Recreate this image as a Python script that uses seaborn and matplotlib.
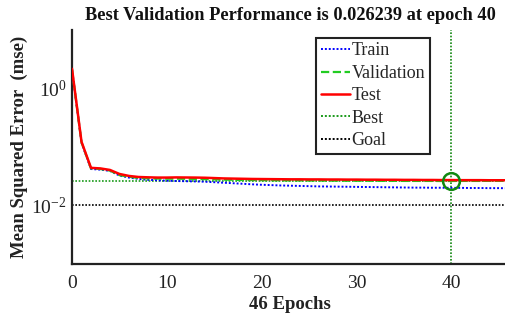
import numpy as np
import pandas as pd
import matplotlib
matplotlib.use("Agg")
import matplotlib.pyplot as plt
import seaborn as sns
from matplotlib.lines import Line2D
from matplotlib.ticker import LogLocator, NullFormatter, FixedLocator, FixedFormatter

# ---- data ----
epochs = list(range(0, 47))
train = [2.1, 0.118, 0.042, 0.041, 0.039, 0.0325, 0.030, 0.0285, 0.0275, 0.027,
         0.0265, 0.0262, 0.026, 0.0258, 0.0255, 0.025, 0.0245, 0.024, 0.0235, 0.023,
         0.0226, 0.0223, 0.022, 0.0218, 0.0216, 0.0214, 0.0212, 0.0211, 0.021, 0.0209,
         0.0208, 0.0207, 0.0206, 0.0205, 0.0204, 0.0203, 0.0202, 0.0202, 0.0201, 0.0201,
         0.020, 0.020, 0.0199, 0.0199, 0.0198, 0.0198, 0.0197]
validation = [2.1, 0.12, 0.043, 0.042, 0.0395, 0.033, 0.031, 0.0295, 0.029, 0.0288,
              0.0287, 0.0287, 0.0286, 0.0285, 0.0283, 0.028, 0.0277, 0.0275, 0.0273, 0.0272,
              0.0271, 0.027, 0.0269, 0.0268, 0.0268, 0.0267, 0.0267, 0.0266, 0.0266, 0.0265,
              0.0265, 0.0265, 0.0264, 0.0264, 0.0264, 0.0263, 0.0263, 0.0263, 0.0263, 0.0262,
              0.026239, 0.0263, 0.0263, 0.0263, 0.0264, 0.0264, 0.0264]
test = [2.17, 0.123, 0.044, 0.043, 0.0405, 0.0346, 0.032, 0.0307, 0.0303, 0.030,
        0.030, 0.0302, 0.0301, 0.030, 0.0298, 0.0294, 0.029, 0.0288, 0.0286, 0.0284,
        0.0283, 0.0282, 0.0281, 0.028, 0.028, 0.0279, 0.0279, 0.0278, 0.0278, 0.0277,
        0.0277, 0.0276, 0.0276, 0.0275, 0.0275, 0.0274, 0.0274, 0.0273, 0.0273, 0.0272,
        0.0272, 0.0271, 0.0271, 0.0271, 0.027, 0.027, 0.027]
best_epoch = 40
best_perf = 0.026239
goal = 0.01
n_epochs = 46
ytick_vals = [1e-2, 1e0]
ytick_labels = [r"$10^{-2}$", r"$10^{0}$"]
xtick_vals = [0, 10, 20, 30, 40]

df = pd.DataFrame({"epoch": epochs, "Train": train, "Validation": validation, "Test": test})

sns.set_theme(style="white")
plt.rcParams["font.family"] = ["Liberation Serif", "DejaVu Serif"]
plt.rcParams["mathtext.fontset"] = "custom"
plt.rcParams["mathtext.rm"] = "Liberation Serif"
plt.rcParams["mathtext.it"] = "Liberation Serif:italic"
plt.rcParams["mathtext.bf"] = "Liberation Serif:bold"

fig = plt.figure(figsize=(5.05, 3.16), dpi=100)
ax = fig.add_axes([0.1426, 0.1646, 0.864, 0.7405])

dot = (0, (1, 1))
c_train = "#0000ff"
c_val = "#22cc22"
c_test = "#ff0000"
c_best = "#1a9a1a"
c_goal = "#000000"

sns.lineplot(data=df, x="epoch", y="Train", ax=ax, color=c_train, lw=1.4, linestyle=dot, zorder=3)
sns.lineplot(data=df, x="epoch", y="Validation", ax=ax, color=c_val, lw=1.6, linestyle="--", zorder=4)
sns.lineplot(data=df, x="epoch", y="Test", ax=ax, color=c_test, lw=1.8, zorder=5)
ax.axhline(best_perf, color=c_best, lw=1.2, linestyle=dot, zorder=2)
ax.axvline(best_epoch, color="#118811", lw=1.2, linestyle=dot, zorder=2)
ax.axhline(goal, color=c_goal, lw=1.2, linestyle=dot, zorder=2)
ax.plot([best_epoch], [best_perf], marker="o", ms=12, mfc="none", mec="#118811", mew=1.8, zorder=6)

ax.set_yscale("log")
ax.set_ylim(1e-3, 1e1)
ax.set_xlim(0, n_epochs)
ax.yaxis.set_major_locator(FixedLocator(ytick_vals))
ax.yaxis.set_major_formatter(FixedFormatter(ytick_labels))
ax.yaxis.set_minor_locator(LogLocator(base=10, subs=np.arange(1, 10), numticks=50))
ax.yaxis.set_minor_formatter(NullFormatter())
ax.set_xticks(xtick_vals)

ax.tick_params(axis="both", which="both", direction="in", colors="#222222", labelcolor="#222222")
ax.tick_params(axis="both", which="major", length=5, width=1.2, labelsize=14, pad=4)
ax.tick_params(axis="y", which="minor", length=3, width=1.0)
ax.tick_params(axis="x", which="major", pad=8)
for s in ["top", "right"]:
    ax.spines[s].set_visible(False)
for s in ["left", "bottom"]:
    ax.spines[s].set_color("#222222")
    ax.spines[s].set_linewidth(1.6)

ax.set_title("Best Validation Performance is 0.026239 at epoch 40", fontsize=13.2, fontweight="bold", pad=7, color="#111111")
ax.set_xlabel("46 Epochs", fontsize=13.5, fontweight="bold", labelpad=3, color="#222222")
ax.set_ylabel("Mean Squared Error  (mse)", fontsize=13.5, fontweight="bold", labelpad=2, color="#222222")

handles = [
    Line2D([], [], color=c_train, lw=1.4, linestyle=dot),
    Line2D([], [], color=c_val, lw=1.6, linestyle="--"),
    Line2D([], [], color=c_test, lw=1.8),
    Line2D([], [], color=c_best, lw=1.4, linestyle=dot),
    Line2D([], [], color=c_goal, lw=1.4, linestyle=dot),
]
leg = ax.legend(handles, ["Train", "Validation", "Test", "Best", "Goal"],
                loc="upper left", bbox_to_anchor=(0.56, 0.966), borderaxespad=0,
                fontsize=13, handlelength=1.6, handletextpad=0.1, labelspacing=0.3,
                borderpad=0.25, frameon=True, fancybox=False, framealpha=1)
leg.get_frame().set_edgecolor("#222222")
leg.get_frame().set_linewidth(1.5)

fig.savefig("out.png", dpi=100)
